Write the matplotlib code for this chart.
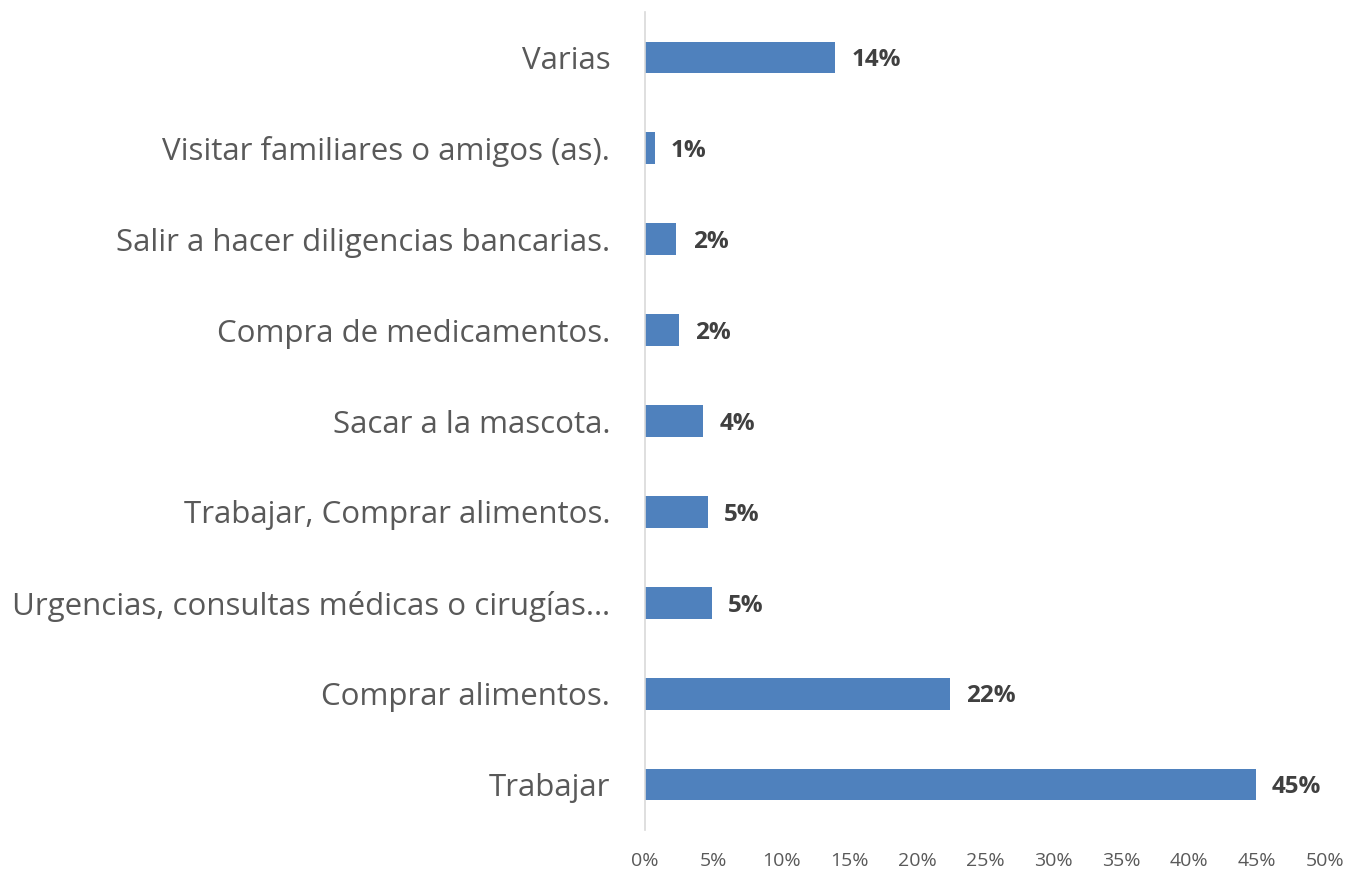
import matplotlib
matplotlib.use('Agg')
import matplotlib.pyplot as plt
from matplotlib.ticker import PercentFormatter

# categories from bottom to top
categories = ['Trabajar',
              'Comprar alimentos.',
              'Urgencias, consultas médicas o cirugías…',
              'Trabajar, Comprar alimentos.',
              'Sacar a la mascota.',
              'Compra de medicamentos.',
              'Salir a hacer diligencias bancarias.',
              'Visitar familiares o amigos (as).',
              'Varias']
values = [0.449, 0.224, 0.049, 0.046, 0.043, 0.025, 0.023, 0.007, 0.140]
value_labels = ['45%', '22%', '5%', '5%', '4%', '2%', '2%', '1%', '14%']
xticks = [0, 0.05, 0.10, 0.15, 0.20, 0.25, 0.30, 0.35, 0.40, 0.45, 0.50]

plt.rcParams['font.family'] = ['Open Sans', 'DejaVu Sans']

fig = plt.figure(figsize=(13.55, 8.72), dpi=100)
ax = fig.add_axes([645/1355, 1-830/872, 680/1355, 818/872])

y = range(len(categories))
ax.barh(y, values, height=0.35, color='#4F81BD')
for i, v in enumerate(values):
    ax.text(v + 0.012, i - 0.03, value_labels[i], va='center', ha='left',
            fontsize=17.5, fontweight='bold', color='#404040')

ax.set_xlim(0, 0.5)
ax.set_ylim(-0.5, len(categories) - 0.5)
ax.set_yticks(list(y))
ax.set_yticklabels(categories, fontsize=22.5, color='#595959')
ax.set_xticks(xticks)
ax.xaxis.set_major_formatter(PercentFormatter(1.0, decimals=0))
ax.tick_params(axis='x', length=0, labelsize=14, labelcolor='#595959', pad=16)
ax.tick_params(axis='y', length=0, pad=25)
for s in ['top', 'right', 'bottom']:
    ax.spines[s].set_visible(False)
ax.spines['left'].set_color('#D9D9D9')
ax.spines['left'].set_linewidth(1.2)

fig.savefig('out.png', dpi=100)
